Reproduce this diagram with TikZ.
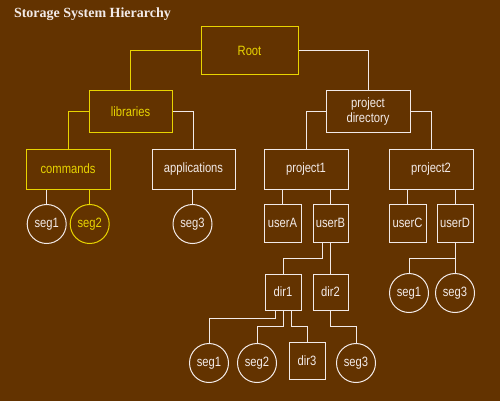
\documentclass[tikz,border=0pt]{standalone}
\usepackage{fontspec}
\setmainfont{Liberation Sans}[FakeStretch=0.83]
\newfontfamily\titlefont{Liberation Serif}
\definecolor{bg}{RGB}{99,51,0}
\definecolor{yl}{RGB}{232,212,0}
\definecolor{wt}{RGB}{242,234,232}
\begin{document}
\begin{tikzpicture}[x=1pt,y=-1pt,
  every node/.style={font=\fontsize{13.5}{15}\selectfont},
  box/.style={draw=wt,text=wt,line width=1pt,rectangle,inner sep=0pt},
  ybox/.style={box,draw=yl,text=yl},
  seg/.style={draw=wt,text=wt,line width=1pt,circle,inner sep=0pt,minimum size=39pt},
  yseg/.style={seg,draw=yl,text=yl},
  wl/.style={draw=wt,line width=1pt},
  yline/.style={draw=yl,line width=1pt}]
\fill[bg] (0,0) rectangle (500,401);
\useasboundingbox (0,0) rectangle (500,401);
\node[anchor=base west,text=wt,font=\titlefont\bfseries\fontsize{14}{16}\selectfont] (title) at (10.5,17.5) {Storage System Hierarchy};
% boxes
\node[ybox,minimum width=97pt,minimum height=48pt] (root) at (249.5,51) {Root};
\node[ybox,minimum width=83pt,minimum height=41pt] (lib) at (130.5,111.5) {libraries};
\node[ybox,minimum width=84pt,minimum height=40pt] (cmd) at (68,169) {commands};
\node[box,minimum width=83pt,minimum height=40pt] (app) at (193.5,169) {applications};
\node[box,minimum width=84pt,minimum height=41pt,align=center,font=\fontsize{13.5}{15}\selectfont] (pd) at (368,111.5) {project\\directory};
\node[box,minimum width=84pt,minimum height=40pt] (p1) at (306,169) {project1};
\node[box,minimum width=84pt,minimum height=40pt] (p2) at (431,169) {project2};
\node[box,minimum width=37pt,minimum height=38pt] (uA) at (282.5,223) {userA};
\node[box,minimum width=35pt,minimum height=38pt] (uB) at (330.5,223) {userB};
\node[box,minimum width=37pt,minimum height=38pt] (uC) at (407.5,223) {userC};
\node[box,minimum width=36pt,minimum height=38pt] (uD) at (455,223) {userD};
\node[box,minimum width=36pt,minimum height=36pt] (d1) at (283,292) {dir1};
\node[box,minimum width=35pt,minimum height=36pt] (d2) at (330.5,292) {dir2};
\node[box,minimum width=36pt,minimum height=37pt] (d3) at (307,360.5) {dir3};
% circles
\node[seg] (s1a) at (46.7,224) {seg1};
\node[yseg] (s2a) at (89.7,224) {seg2};
\node[seg] (s3a) at (192.5,224) {seg3};
\node[seg] (s1b) at (409,293) {seg1};
\node[seg] (s3b) at (455,293) {seg3};
\node[seg] (s1c) at (209,363) {seg1};
\node[seg] (s2c) at (257,363) {seg2};
\node[seg] (s3c) at (356,363) {seg3};
% connectors
\draw[yline] (root.west) -| (lib.north);
\draw[wl] (root.east) -| (pd.north);
\draw[yline] (lib.west) -| (cmd.north);
\draw[wl] (lib.east) -| (app.north);
\draw[wl] (pd.west) -| (p1.north);
\draw[wl] (pd.east) -| (p2.north);
\draw[wl] (s1a.north |- cmd.south) -- (s1a.north);
\draw[yline] (s2a.north |- cmd.south) -- (s2a.north);
\draw[wl] (s3a.north |- app.south) -- (s3a.north);
\draw[wl] (uA.north |- p1.south) -- (uA.north);
\draw[wl] (uB.north |- p1.south) -- (uB.north);
\draw[wl] (uC.north |- p2.south) -- (uC.north);
\draw[wl] (uD.north |- p2.south) -- (uD.north);
\coordinate (ya) at (0,258);
\coordinate (y1) at (0,318);
\coordinate (y2) at (0,326);
\draw[wl] (uD.south) -- (uD.south |- ya) -| (s1b.north);
\draw[wl] (uD.south |- ya) -- (s3b.north);
\coordinate (uBs) at ([xshift=-8.5pt]uB.south);
\draw[wl] (uBs) -- (uBs |- ya) -| (d1.north);
\draw[wl] (d2.north |- uB.south) -- (d2.north);
\coordinate (d1a) at ([xshift=-8pt]d1.south);
\coordinate (d1c) at ([xshift=8pt]d1.south);
\draw[wl] (d1a) -- (d1a |- y1) -| (s1c.north);
\draw[wl] (d1.south) -- (d1.south |- y2) -| (s2c.north);
\draw[wl] (d1c) -- (d1c |- y2) -| (d3.north);
\draw[wl] (d2.south) -- (d2.south |- y2) -| (s3c.north);
\end{tikzpicture}
\end{document}
